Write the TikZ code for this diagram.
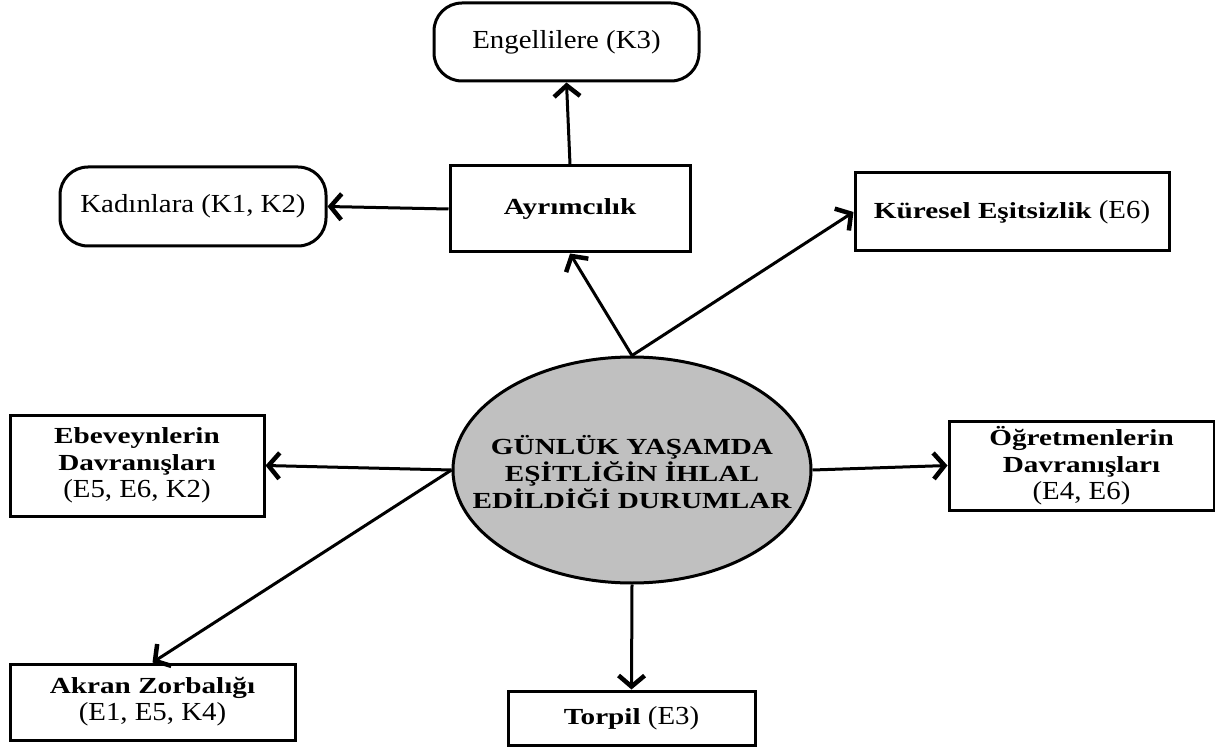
\documentclass[tikz,border=0pt]{standalone}
\usepackage{fontspec}
\setmainfont{Liberation Serif}[FakeStretch=1.11, BoldFeatures={FakeStretch=1.27}]
\usetikzlibrary{arrows.meta,shapes.geometric}
\definecolor{ellgray}{RGB}{192,192,192}
\newcommand\bx[1]{{\fontsize{23}{27}\selectfont\bfseries #1}}
\begin{document}
\begin{tikzpicture}[x=1pt,y=-1pt,
  box/.style={draw, line width=3pt, align=center, inner sep=0pt, font=\fontsize{26}{27}\selectfont},
  rbox/.style={box, rounded corners=28pt},
  conn/.style={line width=3pt, -{Straight Barb[length=11pt,width=26pt,line width=4.5pt]}}]
\useasboundingbox (0,0) rectangle (1215,751);
\node[rbox, minimum width=265pt, minimum height=78pt] (eng) at (566.5,42) {Engellilere (K3)};
\node[rbox, minimum width=266pt, minimum height=79pt] (kad) at (193,206.5) {Kadınlara (K1, K2)};
\node[box, minimum width=240pt, minimum height=86pt] (ayr) at (570,209) {\bx{Ayrımcılık}};
\node[box, minimum width=314pt, minimum height=78pt] (kur) at (1012,212) {\bx{Küresel Eşitsizlik} (E6)};
\node[draw, ellipse, line width=3pt, fill=ellgray, inner sep=0pt,
      minimum width=358pt, minimum height=226pt,
      label={[align=center, inner sep=0pt, font=\fontsize{23}{27}\selectfont\bfseries, yshift=-2pt]center:GÜNLÜK YAŞAMDA\\EŞİTLİĞİN İHLAL\\EDİLDİĞİ DURUMLAR}] (ell) at (632,470) {};
\node[box, minimum width=254pt, minimum height=101pt] (ebe) at (137,465.5) {\bx{Ebeveynlerin}\\\bx{Davranışları}\\(E5, E6, K2)};
\node[box, minimum width=265pt, minimum height=89pt] (ogr) at (1081.5,465.5) {\bx{Öğretmenlerin}\\\bx{Davranışları}\\(E4, E6)};
\node[box, minimum width=285pt, minimum height=76pt] (akr) at (152.5,702) {\bx{Akran Zorbalığı}\\(E1, E5, K4)};
\node[box, minimum width=247pt, minimum height=54pt] (tor) at (631.5,718) {\bx{Torpil} (E3)};
\draw[conn] (ell.north) -- (ayr.south);
\draw[conn] (ell.north) -- (kur.west);
\draw[conn] (ayr.west) -- (kad.east);
\draw[conn] (ayr.north) -- (eng.south);
\draw[conn] (ell.west) -- (ebe.east);
\draw[conn] (ell.west) -- (akr.north);
\draw[conn] (ell.east) -- (ogr.west);
\draw[conn] (ell.south) -- (tor.north);
\end{tikzpicture}
\end{document}
